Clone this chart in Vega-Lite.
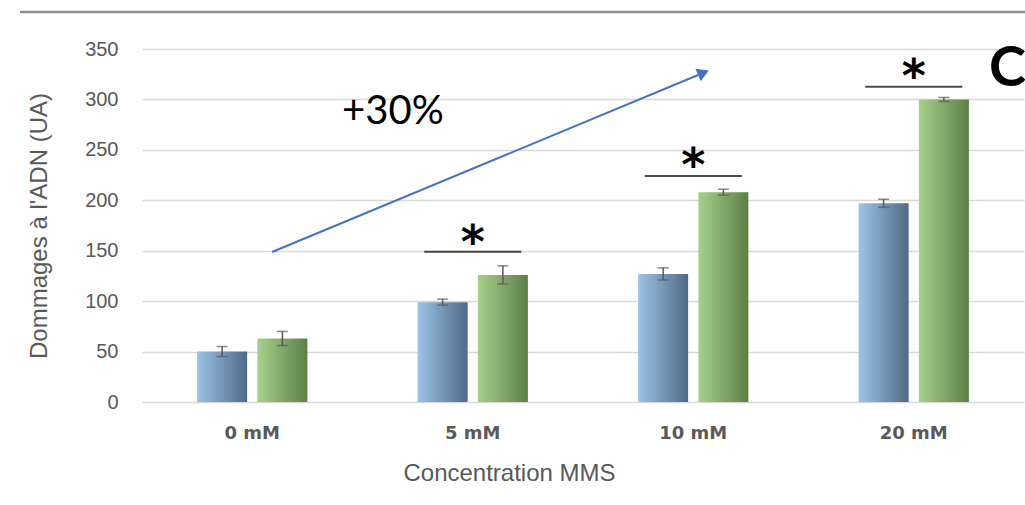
{
  "$schema": "https://vega.github.io/schema/vega-lite/v6.json",
  "width": 882,
  "height": 353,
  "autosize": {"type": "none"},
  "padding": {"left": 142, "top": 49, "right": 1, "bottom": 103},
  "background": "white",
  "config": {"view": {"stroke": null}, "font": "Liberation Sans"},
  "datasets": {
    "bars": [
      {"conc": "0 mM", "grp": "A", "v": 50, "e": 5},
      {"conc": "0 mM", "grp": "B", "v": 63, "e": 7},
      {"conc": "5 mM", "grp": "A", "v": 99, "e": 3},
      {"conc": "5 mM", "grp": "B", "v": 126, "e": 9},
      {"conc": "10 mM", "grp": "A", "v": 127, "e": 6},
      {"conc": "10 mM", "grp": "B", "v": 208, "e": 3},
      {"conc": "20 mM", "grp": "A", "v": 197, "e": 4},
      {"conc": "20 mM", "grp": "B", "v": 300, "e": 2}
    ],
    "sig": [
      {"conc": "5 mM", "line": 149, "star": 157},
      {"conc": "10 mM", "line": 224, "star": 233},
      {"conc": "20 mM", "line": 312.5, "star": 321}
    ],
    "arrow": [
      {"xq": 0.59, "y": 148.7, "o": 0},
      {"xq": 2.522, "y": 324.2, "o": 1}
    ],
    "head": [{"xq": 2.546, "y": 326.5}],
    "labels": [
      {"xq": 1.138, "y": 288, "t": "+30%", "kind": "pct"},
      {"xq": 3.925, "y": 330, "t": "C", "kind": "letter"}
    ],
    "topline": [
      {"xq": -0.553, "y": 386.7, "o": 0},
      {"xq": 4.01, "y": 386.7, "o": 1}
    ]
  },
  "layer": [
    {
      "layer": [
        {
          "data": {"name": "bars"},
          "encoding": {
            "x": {
              "field": "conc", "type": "nominal", "sort": ["0 mM", "5 mM", "10 mM", "20 mM"],
              "scale": {"domain": ["0 mM", "5 mM", "10 mM", "20 mM"], "paddingInner": 0.5, "paddingOuter": 0.25},
              "axis": {
                "title": "Concentration MMS", "labelAngle": 0, "domain": false, "ticks": false,
                "labelFont": "DejaVu Sans", "labelFontWeight": "bold", "labelFontSize": 18, "labelColor": "#595959",
                "labelPadding": 22, "titleFont": "Liberation Sans", "titleFontSize": 24, "titleFontWeight": "normal",
                "titleColor": "#595959", "titlePadding": 19, "titleX": 367, "titleAnchor": "middle", "titleAlign": "center"
              }
            },
            "xOffset": {"field": "grp", "type": "nominal", "scale": {"domain": ["A", "B"], "paddingInner": 0.17, "paddingOuter": 0}},
            "y": {
              "field": "v", "type": "quantitative",
              "scale": {"domain": [0, 350], "nice": false, "zero": true},
              "axis": {
                "title": "Dommages à l'ADN (UA)", "values": [0, 50, 100, 150, 200, 250, 300, 350],
                "domain": false, "ticks": false, "grid": true, "gridColor": "#d9d9d9", "gridWidth": 1.3,
                "labelFont": "Liberation Sans", "labelFontSize": 20, "labelColor": "#595959", "labelPadding": 24,
                "titleFont": "Liberation Sans", "titleFontSize": 24, "titleFontWeight": "normal", "titleColor": "#595959",
                "titlePadding": 33
              }
            }
          },
          "layer": [
            {
              "transform": [{"filter": "datum.grp === 'A'"}],
              "mark": {"type": "bar", "color": {"gradient": "linear", "x1": 0, "y1": 0, "x2": 1, "y2": 0,
                "stops": [{"offset": 0, "color": "#9DC3E6"}, {"offset": 1, "color": "#4F6A87"}]}}
            },
            {
              "transform": [{"filter": "datum.grp === 'B'"}],
              "mark": {"type": "bar", "color": {"gradient": "linear", "x1": 0, "y1": 0, "x2": 1, "y2": 0,
                "stops": [{"offset": 0, "color": "#A6D18B"}, {"offset": 1, "color": "#5C7F46"}]}}
            },
            {
              "transform": [{"calculate": "datum.v - datum.e", "as": "lo"}, {"calculate": "datum.v + datum.e", "as": "hi"}],
              "mark": {"type": "rule", "color": "#595959", "strokeWidth": 1.5},
              "encoding": {"y": {"field": "lo", "type": "quantitative"}, "y2": {"field": "hi"}}
            },
            {
              "transform": [{"calculate": "datum.v - datum.e", "as": "lo"}],
              "mark": {"type": "tick", "color": "#595959", "thickness": 1.5, "size": 11, "orient": "horizontal"},
              "encoding": {"y": {"field": "lo", "type": "quantitative"}}
            },
            {
              "transform": [{"calculate": "datum.v + datum.e", "as": "hi"}],
              "mark": {"type": "tick", "color": "#595959", "thickness": 1.5, "size": 11, "orient": "horizontal"},
              "encoding": {"y": {"field": "hi", "type": "quantitative"}}
            }
          ]
        },
        {
          "data": {"name": "sig"},
          "encoding": {
            "x": {"field": "conc", "type": "nominal", "sort": ["0 mM", "5 mM", "10 mM", "20 mM"],
              "scale": {"domain": ["0 mM", "5 mM", "10 mM", "20 mM"], "paddingInner": 0.5, "paddingOuter": 0.25}}
          },
          "layer": [
            {
              "mark": {"type": "tick", "color": "#000000", "thickness": 2, "size": 97, "orient": "horizontal"},
              "encoding": {"y": {"field": "line", "type": "quantitative"}}
            },
            {
              "mark": {"type": "text", "text": "*", "font": "DejaVu Sans", "fontWeight": "bold", "fontSize": 46, "baseline": "middle", "color": "#000000"},
              "encoding": {"y": {"field": "star", "type": "quantitative"}}
            }
          ]
        }
      ]
    },
    {
      "encoding": {
        "x": {"field": "xq", "type": "quantitative", "scale": {"domain": [0, 4], "nice": false, "zero": false}, "axis": null},
        "y": {"field": "y", "type": "quantitative"}
      },
      "layer": [
        {
          "data": {"name": "topline"},
          "mark": {"type": "line", "color": "#8c8c8c", "strokeWidth": 2.5},
          "encoding": {"order": {"field": "o"}}
        },
        {
          "data": {"name": "arrow"},
          "mark": {"type": "line", "color": "#4472C4", "strokeWidth": 2},
          "encoding": {"order": {"field": "o"}}
        },
        {
          "data": {"name": "head"},
          "mark": {"type": "point", "shape": "triangle-up", "filled": true, "color": "#4472C4", "opacity": 1, "size": 180, "angle": 67}
        },
        {
          "data": {"name": "labels"},
          "transform": [{"filter": "datum.kind === 'pct'"}],
          "mark": {"type": "text", "font": "Lato", "fontSize": 40, "baseline": "middle", "align": "center", "color": "#000000"},
          "encoding": {"text": {"field": "t"}}
        },
        {
          "data": {"name": "labels"},
          "transform": [{"filter": "datum.kind === 'letter'"}],
          "mark": {"type": "text", "font": "Lato", "fontWeight": "bold", "fontSize": 56, "baseline": "middle", "align": "center", "color": "#000000"},
          "encoding": {"text": {"field": "t"}}
        }
      ]
    }
  ],
  "resolve": {"scale": {"x": "independent"}}
}
